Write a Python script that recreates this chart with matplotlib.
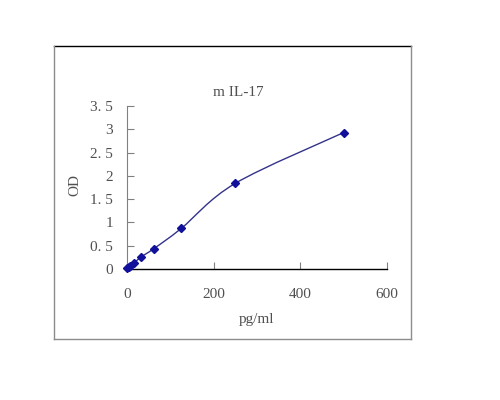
import matplotlib
matplotlib.use("Agg")
import matplotlib.pyplot as plt
import numpy as np
from matplotlib.path import Path
from matplotlib.patches import PathPatch
from matplotlib.lines import Line2D

conc = [0, 3.9, 7.8, 15.6, 31.25, 62.5, 125, 250, 500]
od = [0.02, 0.04, 0.07, 0.12, 0.25, 0.44, 0.87, 1.84, 2.93]
x_ticks = [0, 200, 400, 600]
y_ticks = [0, 0.5, 1, 1.5, 2, 2.5, 3, 3.5]
y_labels = ["0", "0. 5", "1", "1. 5", "2", "2. 5", "3", "3. 5"]

plt.rcParams["font.family"] = ["Liberation Serif", "DejaVu Serif"]
text_color = "#505050"

fig = plt.figure(figsize=(5, 4), dpi=100)
# outer chart frame: black top edge, grey elsewhere
x0, x1, y0, y1 = 0.107, 0.821, 0.152, 0.885
for xs, ys, c in [([x0, x1], [y1, y1], "black"),
                  ([x0, x0], [y0, y1], "#8c8c8c"),
                  ([x1, x1], [y0, y1], "#8c8c8c"),
                  ([x0, x1], [y0, y0], "#8c8c8c")]:
    fig.lines.append(Line2D(xs, ys, transform=fig.transFigure, color=c, linewidth=1.0))

ax = fig.add_axes([0.254, 0.3275, 0.52, 0.4075])

# smoothed line like a spreadsheet chart: Catmull-Rom segments as Bezier curves
px = np.array(conc, float)
py = np.array(od, float)
verts = [(px[0], py[0])]
codes = [Path.MOVETO]
for i in range(len(px) - 1):
    p0 = (px[max(i - 1, 0)], py[max(i - 1, 0)])
    p1 = (px[i], py[i])
    p2 = (px[i + 1], py[i + 1])
    p3 = (px[min(i + 2, len(px) - 1)], py[min(i + 2, len(px) - 1)])
    c1 = (p1[0] + (p2[0] - p0[0]) / 6, p1[1] + (p2[1] - p0[1]) / 6)
    c2 = (p2[0] - (p3[0] - p1[0]) / 6, p2[1] - (p3[1] - p1[1]) / 6)
    verts += [c1, c2, p2]
    codes += [Path.CURVE4] * 3
ax.add_patch(PathPatch(Path(verts, codes), fill=False, edgecolor="#33338a",
                       linewidth=1.0, clip_on=False))
ax.plot(conc, od, linestyle="none", marker="D", markersize=4.5,
        color="#10109a", clip_on=False, zorder=3)

ax.set_xlim(0, 600)
ax.set_ylim(0, 3.5)
ax.set_xticks(x_ticks)
ax.set_yticks(y_ticks)
ax.set_yticklabels(y_labels)
ax.spines["top"].set_visible(False)
ax.spines["right"].set_visible(False)
ax.spines["left"].set_color("#808080")
ax.spines["left"].set_linewidth(0.8)
ax.spines["bottom"].set_color("black")
ax.spines["bottom"].set_linewidth(1.0)
ax.tick_params(axis="y", direction="in", length=5, color="#808080",
               labelsize=11, labelcolor=text_color, pad=10)
ax.tick_params(axis="x", direction="in", length=5, color="#808080",
               labelsize=11, labelcolor=text_color, pad=14)
ax.set_xlabel("pg/ml", fontsize=11, color=text_color, labelpad=8)
fig.text(0.15, 0.538, "OD", rotation=90, fontsize=11, color=text_color,
         ha="center", va="center")
fig.text(0.476, 0.77, "m IL-17", fontsize=11, color=text_color,
         ha="center", va="center")

fig.savefig("out.png")
